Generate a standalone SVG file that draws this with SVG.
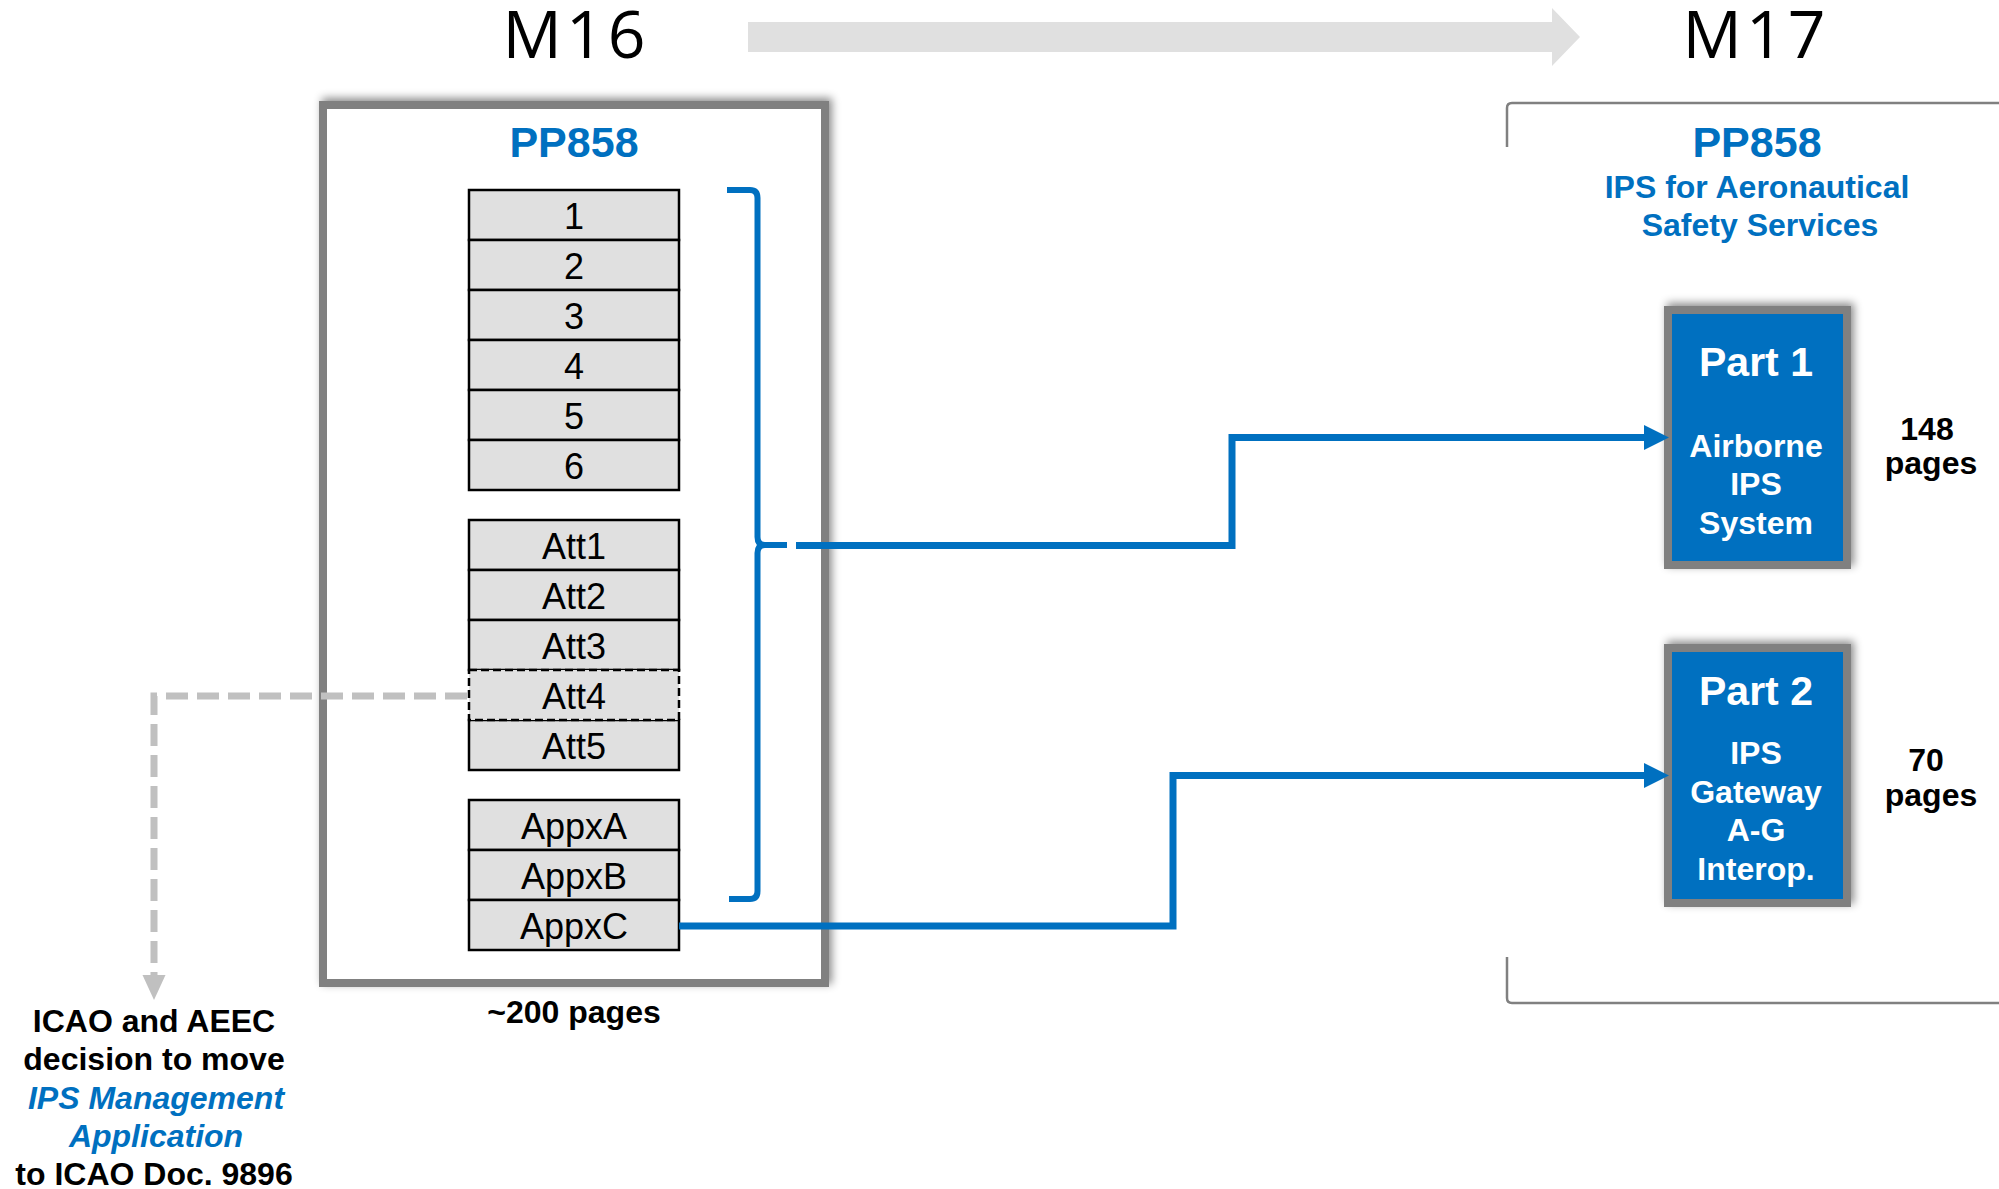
<svg xmlns="http://www.w3.org/2000/svg" width="1999" height="1189" viewBox="0 0 1999 1189">
<style>
.t{font-family:"Liberation Sans",Arial,sans-serif;text-anchor:middle}
.b{font-weight:bold}
.blue{fill:#0070C0}
.wh{fill:#ffffff}
.cell{fill:#E0E0E0;stroke:#000;stroke-width:2.5}
.ct{font-family:"Liberation Sans",Arial,sans-serif;font-size:36px;text-anchor:middle;fill:#000}
.ms{font-family:"Open Sans","DejaVu Sans",sans-serif;font-size:66px;font-weight:400;letter-spacing:4px;text-anchor:middle;fill:#000}
.conn{fill:none;stroke:#0070C0;stroke-width:7}
.part{fill:#0070C0;stroke:#808080;stroke-width:8}
</style>
<defs>
<filter id="sh" x="-20%" y="-20%" width="140%" height="140%">
<feDropShadow dx="3" dy="-3" stdDeviation="4" flood-color="#000" flood-opacity="0.45"/>
</filter>
<marker id="ab" markerUnits="userSpaceOnUse" markerWidth="26" markerHeight="26" refX="0" refY="12.5" orient="auto">
<path d="M0,0 L25,12.5 L0,25 z" fill="#0070C0"/>
</marker>
<marker id="ag" markerUnits="userSpaceOnUse" markerWidth="26" markerHeight="24" refX="0" refY="11.5" orient="auto">
<path d="M0,0 L25,11.5 L0,23 z" fill="#C0C0C0"/>
</marker>
</defs>
<rect width="1999" height="1189" fill="#fff"/>

<g id="timeline">
<text class="ms" x="576" y="58">M16</text>
<text class="ms" x="1756" y="58">M17</text>
<path d="M748,22 H1552 V8 L1580,37 L1552,66 V52 H748 z" fill="#E0E0E0"/>
</g>

<g id="m16-box">
<rect x="323" y="105" width="502" height="878" fill="#fff" stroke="#808080" stroke-width="8" filter="url(#sh)"/>
<text class="t b blue" x="574" y="157" font-size="43">PP858</text>
<text class="t b" x="574" y="1023" font-size="32">~200 pages</text>
</g>

<g id="chapters">
<rect class="cell" x="469" y="190" width="210" height="50"/><text class="ct" x="574" y="229">1</text>
<rect class="cell" x="469" y="240" width="210" height="50"/><text class="ct" x="574" y="279">2</text>
<rect class="cell" x="469" y="290" width="210" height="50"/><text class="ct" x="574" y="329">3</text>
<rect class="cell" x="469" y="340" width="210" height="50"/><text class="ct" x="574" y="379">4</text>
<rect class="cell" x="469" y="390" width="210" height="50"/><text class="ct" x="574" y="429">5</text>
<rect class="cell" x="469" y="440" width="210" height="50"/><text class="ct" x="574" y="479">6</text>
</g>

<g id="attachments">
<rect class="cell" x="469" y="520" width="210" height="50"/><text class="ct" x="574" y="559">Att1</text>
<rect class="cell" x="469" y="570" width="210" height="50"/><text class="ct" x="574" y="609">Att2</text>
<rect class="cell" x="469" y="620" width="210" height="50"/><text class="ct" x="574" y="659">Att3</text>
<rect class="cell" x="469" y="720" width="210" height="50"/><text class="ct" x="574" y="759">Att5</text>
<rect x="469" y="670" width="210" height="50" fill="#E0E0E0" stroke="#000" stroke-width="2.5" stroke-dasharray="8 4"/><text class="ct" x="574" y="709">Att4</text>
</g>

<g id="appendices">
<rect class="cell" x="469" y="800" width="210" height="50"/><text class="ct" x="574" y="839">AppxA</text>
<rect class="cell" x="469" y="850" width="210" height="50"/><text class="ct" x="574" y="889">AppxB</text>
<rect class="cell" x="469" y="900" width="210" height="50"/><text class="ct" x="574" y="939">AppxC</text>
</g>

<g id="m17-frame">
<path d="M1507,147 V108 Q1507,103 1512,103 H1999" fill="none" stroke="#808080" stroke-width="2.5"/>
<path d="M1507,957 V998 Q1507,1003 1512,1003 H1999" fill="none" stroke="#808080" stroke-width="2.5"/>
<text class="t b blue" x="1757" y="157" font-size="43">PP858</text>
<text class="t b blue" x="1757" y="198" font-size="32">IPS for Aeronautical</text>
<text class="t b blue" x="1760" y="236" font-size="32">Safety Services</text>
</g>

<g id="part1">
<rect class="part" x="1668" y="310" width="179" height="255" filter="url(#sh)"/>
<text class="t b wh" x="1756" y="376" font-size="41">Part 1</text>
<text class="t b wh" x="1756" y="457" font-size="32">Airborne</text>
<text class="t b wh" x="1756" y="495" font-size="32">IPS</text>
<text class="t b wh" x="1756" y="534" font-size="32">System</text>
<text class="t b" x="1927" y="440" font-size="32">148</text>
<text class="t b" x="1931" y="474" font-size="32">pages</text>
</g>

<g id="part2">
<rect class="part" x="1668" y="648" width="179" height="255" filter="url(#sh)"/>
<text class="t b wh" x="1756" y="705" font-size="41">Part 2</text>
<text class="t b wh" x="1756" y="764" font-size="32">IPS</text>
<text class="t b wh" x="1756" y="803" font-size="32">Gateway</text>
<text class="t b wh" x="1756" y="841" font-size="32">A-G</text>
<text class="t b wh" x="1756" y="880" font-size="32">Interop.</text>
<text class="t b" x="1926" y="771" font-size="32">70</text>
<text class="t b" x="1931" y="806" font-size="32">pages</text>
</g>

<g id="icao-note">
<text class="t b" x="154" y="1032" font-size="32">ICAO and AEEC</text>
<text class="t b" x="154" y="1070" font-size="32">decision to move</text>
<text class="t b blue" x="156" y="1109" font-size="32" font-style="italic">IPS Management</text>
<text class="t b blue" x="156" y="1147" font-size="32" font-style="italic">Application</text>
<text class="t b" x="154" y="1185" font-size="32">to ICAO Doc. 9896</text>
</g>

<g id="connectors">
<path d="M727,190 H750 Q757.5,190 757.5,198 V537 Q757.5,545 765,545 H787 M765,545 Q757.5,545 757.5,553 V891 Q757.5,899 750,899 H729" fill="none" stroke="#0070C0" stroke-width="6"/>
<path class="conn" d="M796,545.5 H1232 V437.5 H1644" marker-end="url(#ab)"/>
<path class="conn" d="M679,926 H1173 V775.5 H1644" marker-end="url(#ab)"/>
<path d="M467,696 H154 V975" fill="none" stroke="#C0C0C0" stroke-width="7" stroke-dasharray="22 9" marker-end="url(#ag)"/>
</g>
</svg>
